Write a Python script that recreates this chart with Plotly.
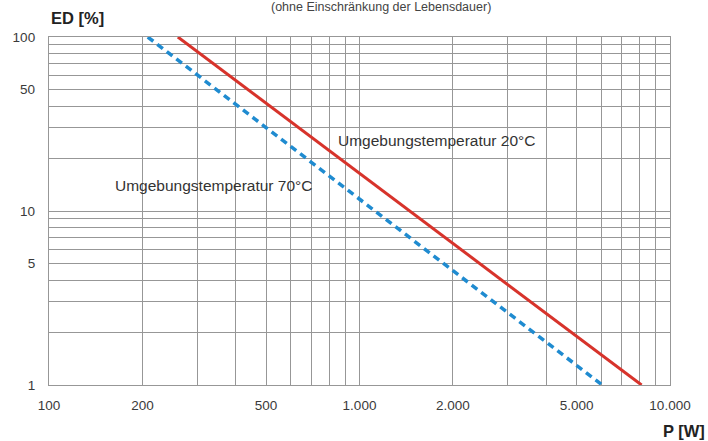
import plotly.graph_objects as go

# Data
p_20 = [260, 8100]      # P [W], ambient 20 °C
ed_20 = [100, 1]        # ED [%]
p_70 = [208, 6050]      # P [W], ambient 70 °C
ed_70 = [100, 1]

x_tickvals = [100, 200, 500, 1000, 2000, 5000, 10000]
x_ticktext = ["100", "200", "500", "1.000", "2.000", "5.000", "10.000"]
y_tickvals = [1, 5, 10, 50, 100]
y_ticktext = ["1", "5", "10", "50", "100"]

FONT = "Arial, Liberation Sans, sans-serif"
GRID = "#979797"

fig = go.Figure()
fig.add_trace(go.Scatter(x=p_20, y=ed_20, mode="lines",
                         line=dict(color="#d7332b", width=3),
                         showlegend=False, hoverinfo="skip"))
fig.add_trace(go.Scatter(x=p_70, y=ed_70, mode="lines",
                         line=dict(color="#1f8bd0", width=3.5, dash="7px,5px"),
                         showlegend=False, hoverinfo="skip"))

axis_common = dict(
    type="log", showgrid=True, gridcolor=GRID, gridwidth=1.3,
    zeroline=False, showline=True, linecolor=GRID, linewidth=1.3,
    mirror=True, ticks="", tickfont=dict(family=FONT, size=13.5, color="#3a3a3a"),
    minor=dict(dtick="D1", showgrid=True, gridcolor=GRID, gridwidth=1.3, ticks=""),
)

fig.update_xaxes(range=[2, 4], tickmode="array", tickvals=x_tickvals,
                 ticktext=x_ticktext, ticklabelstandoff=8, **axis_common)
fig.update_yaxes(range=[0, 2], tickmode="array", tickvals=y_tickvals,
                 ticktext=y_ticktext, ticklabelstandoff=10, **axis_common)

annotations = [
    dict(text="Umgebungstemperatur 20°C", x=0.462, y=0.704, xref="paper", yref="paper",
         xanchor="left", yanchor="middle", showarrow=False,
         font=dict(family=FONT, size=15.5, color="#333333")),
    dict(text="Umgebungstemperatur 70°C", x=(113 - 49) / 621, y=(385 - 186) / 348,
         xref="paper", yref="paper", xanchor="left", yanchor="middle", showarrow=False,
         font=dict(family=FONT, size=15.5, color="#333333")),
    dict(text="<b>ED [%]</b>", x=0.0, y=(385 - 18) / 348, xref="paper", yref="paper",
         xanchor="left", yanchor="middle", showarrow=False,
         font=dict(family=FONT, size=16.5, color="#222222")),
    dict(text="<b>P [W]</b>", x=(684 - 49) / 621, y=(385 - 431) / 348, xref="paper",
         yref="paper", xanchor="center", yanchor="middle", showarrow=False,
         font=dict(family=FONT, size=16.5, color="#222222")),
    dict(text="(ohne Einschränkung der Lebensdauer)", x=(381 - 49) / 621,
         y=(385 - 7) / 348, xref="paper", yref="paper", xanchor="center",
         yanchor="middle", showarrow=False,
         font=dict(family=FONT, size=12.5, color="#444444")),
]

fig.update_layout(
    width=708, height=441,
    margin=dict(l=49, r=38, t=37, b=56),
    paper_bgcolor="white", plot_bgcolor="white",
    annotations=annotations,
    showlegend=False,
)

fig.write_html("out.html")
